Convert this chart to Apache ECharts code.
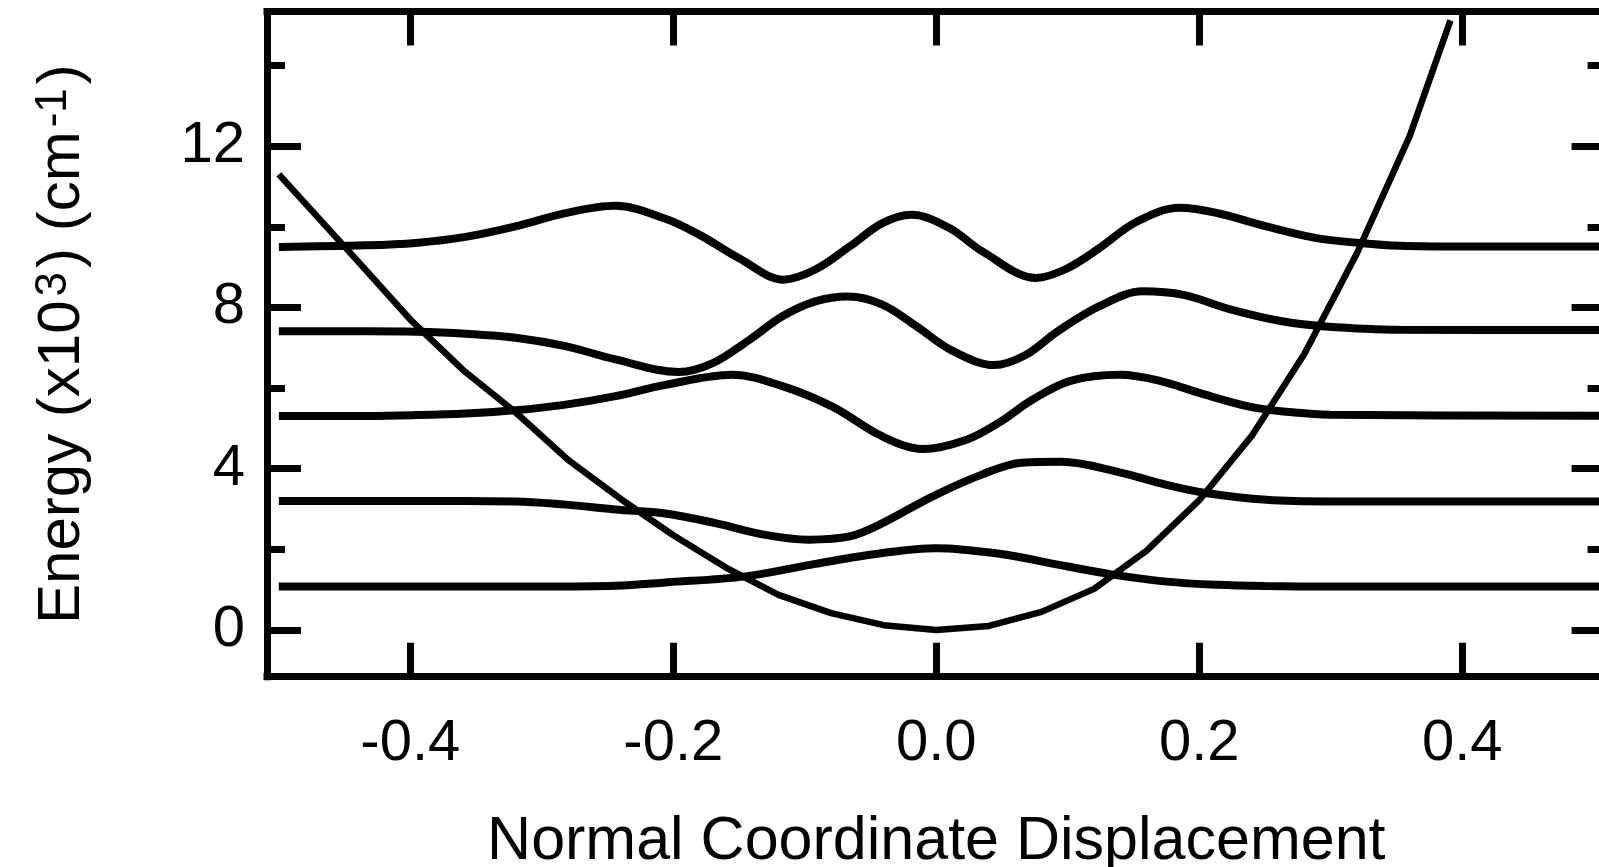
<!DOCTYPE html>
<html>
<head>
<meta charset="utf-8">
<script src="https://cdn.jsdelivr.net/npm/echarts@6.0.0/dist/echarts.min.js"></script>
<style>
  html, body { margin: 0; padding: 0; background: #fff; }
  #chart { width: 1599px; height: 867px; }
</style>
</head>
<body>
<div id="chart"></div>
<script>
// ---- data ----
const xTickValues = [-0.4, -0.2, 0.0, 0.2, 0.4];
const yMajorTicks = [0, 4, 8, 12];
const yMinorTicks = [2, 6, 10, 14];

// potential energy curve (x, energy in 10^3 cm^-1)
const potX = [-0.50, -0.44, -0.40, -0.36, -0.32, -0.28, -0.24, -0.20, -0.16, -0.12, -0.08, -0.04, 0.00, 0.04, 0.08, 0.12, 0.16, 0.20, 0.24, 0.28, 0.32, 0.36, 0.391];
const potY = [11.30, 9.15, 7.70, 6.45, 5.40, 4.22, 3.25, 2.35, 1.55, 0.87, 0.42, 0.12, 0.00, 0.10, 0.45, 1.02, 1.97, 3.22, 4.82, 6.85, 9.35, 12.25, 15.12];

// vibrational wavefunctions, each drawn on its own energy level
const v0X = [-0.50, -0.40, -0.30, -0.244, -0.206, -0.145, -0.092, -0.041, 0.00, 0.048, 0.099, 0.133, 0.175, 0.213, 0.25, 0.30, 0.52];
const v0Y = [1.08, 1.08, 1.08, 1.10, 1.18, 1.33, 1.64, 1.91, 2.03, 1.89, 1.58, 1.38, 1.20, 1.12, 1.09, 1.08, 1.08];

const v1X = [-0.50, -0.40, -0.32, -0.282, -0.244, -0.206, -0.168, -0.130, -0.097, -0.066, -0.041, -0.003, 0.035, 0.065, 0.095, 0.137, 0.175, 0.205, 0.251, 0.30, 0.52];
const v1Y = [3.20, 3.20, 3.19, 3.11, 2.99, 2.89, 2.65, 2.36, 2.24, 2.32, 2.65, 3.31, 3.86, 4.15, 4.17, 3.93, 3.60, 3.40, 3.23, 3.19, 3.19];

const v2X = [-0.50, -0.434, -0.396, -0.358, -0.320, -0.282, -0.244, -0.206, -0.155, -0.117, -0.079, -0.041, -0.010, 0.023, 0.048, 0.073, 0.102, 0.140, 0.170, 0.200, 0.238, 0.264, 0.30, 0.52];
const v2Y = [5.31, 5.31, 5.33, 5.37, 5.45, 5.59, 5.80, 6.08, 6.33, 6.05, 5.54, 4.80, 4.49, 4.72, 5.15, 5.71, 6.18, 6.33, 6.18, 5.88, 5.54, 5.42, 5.34, 5.31];

const v3X = [-0.50, -0.434, -0.396, -0.358, -0.320, -0.282, -0.244, -0.196, -0.170, -0.142, -0.117, -0.092, -0.067, -0.041, -0.015, 0.012, 0.044, 0.068, 0.092, 0.124, 0.157, 0.188, 0.225, 0.264, 0.296, 0.352, 0.52];
const v3Y = [7.41, 7.41, 7.40, 7.35, 7.25, 7.04, 6.71, 6.40, 6.62, 7.20, 7.78, 8.15, 8.27, 8.07, 7.53, 6.93, 6.57, 6.82, 7.40, 8.03, 8.40, 8.31, 7.94, 7.65, 7.53, 7.45, 7.44];

const v4X = [-0.50, -0.434, -0.396, -0.358, -0.320, -0.282, -0.244, -0.206, -0.180, -0.150, -0.116, -0.092, -0.066, -0.041, -0.019, 0.010, 0.035, 0.076, 0.099, 0.124, 0.152, 0.185, 0.215, 0.251, 0.289, 0.322, 0.352, 0.403, 0.52];
const v4Y = [9.50, 9.54, 9.60, 9.75, 10.01, 10.34, 10.52, 10.20, 9.80, 9.22, 8.69, 8.94, 9.51, 10.09, 10.30, 9.97, 9.39, 8.73, 8.96, 9.47, 10.12, 10.47, 10.33, 10.01, 9.72, 9.60, 9.53, 9.51, 9.51];

// ---- chart ----
const FONT = '"Liberation Sans", Arial, Helvetica, sans-serif';
const X_MIN = -0.509, X_MAX = 0.509;
const Y_MIN = -1.158, Y_MAX = 15.34;

function pairs(xs, ys) { return xs.map((x, i) => [x, ys[i]]); }

const axisLineStyle = { color: '#000', width: 7, cap: 'square' };
const tickLineStyle = { color: '#000', width: 7 };

function xAxisDef(position, withLabels) {
  return {
    type: 'value', position: position, min: X_MIN, max: X_MAX,
    axisLine: { show: true, onZero: false, lineStyle: axisLineStyle },
    axisTick: { show: true, inside: true, length: 34, lineStyle: tickLineStyle, customValues: xTickValues },
    axisLabel: {
      show: withLabels, customValues: xTickValues, margin: 38,
      fontSize: 58, color: '#000', fontFamily: FONT,
      formatter: v => Number(v).toFixed(1)
    },
    splitLine: { show: false }
  };
}

function yAxisDef(position, ticks, len, withLabels, withLine) {
  return {
    type: 'value', position: position, min: Y_MIN, max: Y_MAX,
    axisLine: { show: withLine, onZero: false, lineStyle: axisLineStyle },
    axisTick: { show: true, inside: true, length: len, lineStyle: tickLineStyle, customValues: ticks },
    axisLabel: {
      show: withLabels, customValues: ticks, margin: 22,
      fontSize: 58, color: '#000', fontFamily: FONT,
      formatter: v => String(Math.round(v))
    },
    splitLine: { show: false }
  };
}

const xBottom = xAxisDef('bottom', true);
xBottom.name = 'Normal Coordinate Displacement';
xBottom.nameLocation = 'middle';
xBottom.nameGap = 135;
xBottom.nameTextStyle = { fontSize: 61, color: '#000', fontFamily: FONT };

const yLeft = yAxisDef('left', yMajorTicks, 34, true, true);
yLeft.name = '{a|Energy (x10}{s|3}{a|) (cm}{s|-1}{a|)}';
yLeft.nameLocation = 'middle';
yLeft.nameGap = 175;
yLeft.nameRotate = 90;
yLeft.nameTextStyle = {
  color: '#000', fontFamily: FONT,
  rich: {
    a: { fontSize: 60, lineHeight: 60, color: '#000', fontFamily: FONT, verticalAlign: 'bottom' },
    s: { fontSize: 44, lineHeight: 44, color: '#000', fontFamily: FONT, verticalAlign: 'top', padding: [0, 4, 36, 4] }
  }
};

const waveStyle = { color: '#000', width: 8 };
function wave(xs, ys) {
  return {
    type: 'line', data: pairs(xs, ys), smooth: 0.35, showSymbol: false, symbol: 'none',
    lineStyle: waveStyle, clip: true, silent: true
  };
}

const option = {
  animation: false,
  backgroundColor: '#fff',
  grid: { left: 267, top: 11.5, width: 1338.6, height: 665.2, containLabel: false, outerBoundsMode: 'none' },
  xAxis: [xBottom, xAxisDef('top', false)],
  yAxis: [
    yLeft,
    yAxisDef('left', yMinorTicks, 18, false, false),
    yAxisDef('right', yMajorTicks, 34, false, true),
    yAxisDef('right', yMinorTicks, 18, false, false)
  ],
  series: [
    wave(v0X, v0Y),
    wave(v1X, v1Y),
    wave(v2X, v2Y),
    wave(v3X, v3Y),
    wave(v4X, v4Y),
    {
      type: 'line', data: pairs(potX, potY), smooth: false, showSymbol: false, symbol: 'none',
      lineStyle: { color: '#000', width: 6.5 }, clip: true, silent: true
    }
  ]
};

const chart = echarts.init(document.getElementById('chart'), null, { renderer: 'canvas' });
chart.setOption(option);
</script>
</body>
</html>
